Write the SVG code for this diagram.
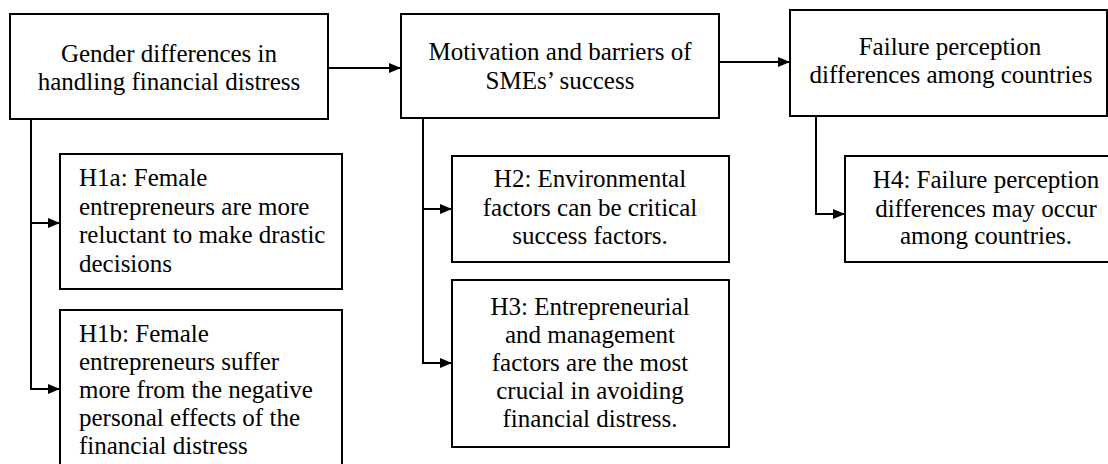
<svg xmlns="http://www.w3.org/2000/svg" width="1108" height="464" viewBox="0 0 1108 464">
  <defs>
    <marker id="arrow" viewBox="0 0 12 10" refX="12" refY="5" markerWidth="12" markerHeight="10" markerUnits="userSpaceOnUse" orient="auto">
      <path d="M0,0 L12,5 L0,10 Z" fill="#000"/>
    </marker>
  </defs>
  <style>
    .box { fill: #fff; stroke: #000; stroke-width: 2; }
    .link { fill: none; stroke: #000; stroke-width: 2; marker-end: url(#arrow); }
    text { font-family: "Liberation Serif", "Times New Roman", serif; font-size: 25px; fill: #000; }
    .c { text-anchor: middle; }
  </style>

  <rect width="1108" height="464" fill="#fff"/>

  <!-- connectors -->
  <g id="connectors">
    <path class="link" d="M328,68 H401"/>
    <path class="link" d="M719,62 H790"/>
    <path class="link" d="M31,119 V223 H60"/>
    <path class="link" d="M31,223 V389 H60"/>
    <path class="link" d="M423,118 V209 H452"/>
    <path class="link" d="M423,209 V363 H452"/>
    <path class="link" d="M816,116 V214 H845"/>
  </g>

  <!-- top row -->
  <g id="gender">
    <rect class="box" x="10" y="14" width="318" height="105"/>
    <text class="c" x="169" y="62">Gender differences in</text>
    <text class="c" x="169" y="90">handling financial distress</text>
  </g>
  <g id="motivation">
    <rect class="box" x="401" y="14" width="318" height="104"/>
    <text class="c" x="560" y="60">Motivation and barriers of</text>
    <text class="c" x="560" y="89">SMEs’ success</text>
  </g>
  <g id="failure">
    <rect class="box" x="790" y="10" width="317" height="106"/>
    <text class="c" x="950" y="55">Failure perception</text>
    <text class="c" x="951" y="83">differences among countries</text>
  </g>

  <!-- hypotheses -->
  <g id="h1a">
    <rect class="box" x="60" y="154" width="282" height="135"/>
    <text x="79" y="186">H1a: Female</text>
    <text x="79" y="215">entrepreneurs are more</text>
    <text x="79" y="243">reluctant to make drastic</text>
    <text x="79" y="272">decisions</text>
  </g>
  <g id="h1b">
    <rect class="box" x="60" y="310" width="282" height="170"/>
    <text x="79" y="342">H1b: Female</text>
    <text x="79" y="370">entrepreneurs suffer</text>
    <text x="79" y="398">more from the negative</text>
    <text x="79" y="426">personal effects of the</text>
    <text x="79" y="454">financial distress</text>
  </g>
  <g id="h2">
    <rect class="box" x="452" y="156" width="277" height="106"/>
    <text class="c" x="590" y="187">H2: Environmental</text>
    <text class="c" x="590" y="216">factors can be critical</text>
    <text class="c" x="590" y="244">success factors.</text>
  </g>
  <g id="h3">
    <rect class="box" x="452" y="280" width="277" height="167"/>
    <text class="c" x="590" y="315">H3: Entrepreneurial</text>
    <text class="c" x="590" y="343">and management</text>
    <text class="c" x="590" y="371">factors are the most</text>
    <text class="c" x="590" y="399">crucial in avoiding</text>
    <text class="c" x="590" y="427">financial distress.</text>
  </g>
  <g id="h4">
    <rect class="box" x="845" y="156" width="280" height="106"/>
    <text class="c" x="986" y="188">H4: Failure perception</text>
    <text class="c" x="986" y="217">differences may occur</text>
    <text class="c" x="986" y="244">among countries.</text>
  </g>
</svg>
